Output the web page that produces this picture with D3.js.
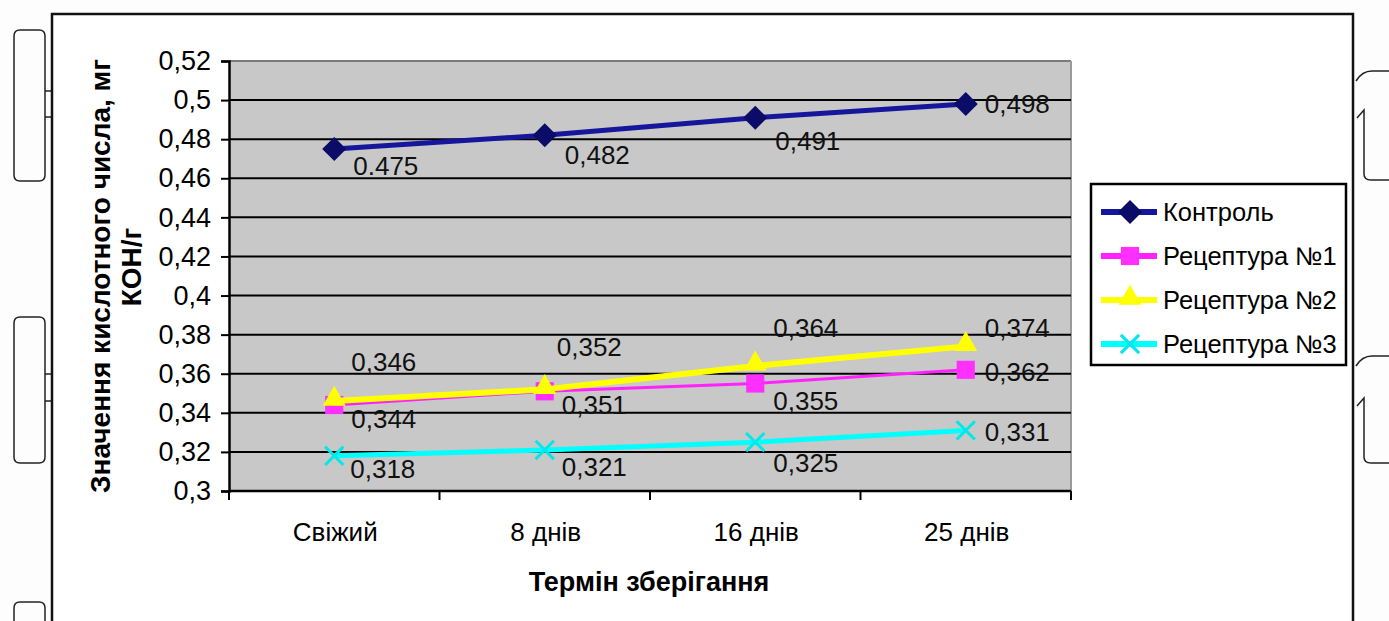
<!DOCTYPE html>
<html lang="uk">

<head>
    <meta charset="UTF-8">
    <title>Кислотне число</title>
    <script src="https://cdn.jsdelivr.net/npm/d3@7/dist/d3.min.js"></script>
    <style>
        * {
            margin: 0;
        }

        body {
            background: #fdfdfd;
        }

        svg text {
            font-family: "Liberation Sans", Arial, sans-serif;
        }
    </style>
</head>

<body>
    <svg id="chart" width="1389" height="621"></svg>
    <script>
        // дані
        const categories = ['Свіжий', '8 днів', '16 днів', '25 днів'];
        const seriesNames = ['Контроль', 'Рецептура №1', 'Рецептура №2', 'Рецептура №3'];
        const control = [0.475, 0.482, 0.491, 0.498];
        const recipe1 = [0.344, 0.351, 0.355, 0.362];
        const recipe2 = [0.346, 0.352, 0.364, 0.374];
        const recipe3 = [0.318, 0.321, 0.325, 0.331];
        const yTicks = [0.3, 0.32, 0.34, 0.36, 0.38, 0.4, 0.42, 0.44, 0.46, 0.48, 0.5, 0.52];
        const yTitle = ['Значення кислотного числа, мг', 'КОН/г'];
        const xTitle = 'Термін зберігання';

        // оформлення серій
        const styles = [
            { line: '#16169c', marker: '#0b0b68', width: 5, symbol: 'diamond' },
            { line: '#ff22ff', marker: '#ff30ff', width: 3, symbol: 'square' },
            { line: '#ffff00', marker: '#ffff00', width: 6, symbol: 'triangle' },
            { line: '#00ffff', marker: '#00e8e8', width: 5, symbol: 'x' }
        ];
        // зсуви підписів значень [dx, dy]
        const labelOffsets = [
            [[19, 17], [20, 20], [20, 23], [19, 0]],
            [[17, 14], [17, 14], [18, 17], [19, 2]],
            [[17, -39], [12, -42], [18, -38], [19, -18]],
            [[16, 13], [17, 17], [18, 21], [19, 1]]
        ];

        const seriesData = [control, recipe1, recipe2, recipe3];
        const fmt = v => String(+v.toFixed(3)).replace('.', ',');

        const svg = d3.select('#chart');

        // рамка сторінки і декор скану
        const deco = svg.append('g').attr('fill', 'none').attr('stroke', '#222').attr('stroke-width', 1.5);
        [[30, 181, 91, 117], [317, 463, 374, 401], [602, 660, null, null]].forEach(([t, b, n1, n2]) => {
            deco.append('path').attr('d',
                `M45,${t + 6}Q45,${t} 39,${t}L20,${t}Q14,${t} 14,${t + 6}L14,${b - 6}Q14,${b} 20,${b}L39,${b}Q45,${b} 45,${b - 6}Z`);
            if (n1) {
                deco.append('path').attr('d', `M45,${n1}L51,${n1}M45,${n2}L51,${n2}`);
            }
        });
        [[71, 110, 180], [356, 398, 463]].forEach(([t, s, b]) => {
            deco.append('path').attr('d',
                `M1389,${t}L1372,${t}Q1362,${t} 1356,${t + 10}M1357,${s + 8}L1364,${s}L1364,${b - 6}Q1364,${b} 1371,${b}L1389,${b}`);
        });

        svg.append('rect')
            .attr('x', 52).attr('y', 14).attr('width', 1301).attr('height', 640)
            .attr('fill', '#fff').attr('stroke', '#111').attr('stroke-width', 2.5);

        // шкали
        const x = d3.scaleBand().domain(categories).range([229, 1071]);
        const y = d3.scaleLinear().domain([0.3, 0.52]).range([491, 61]);
        const cx = c => x(c) + x.bandwidth() / 2;

        // область побудови
        svg.append('rect')
            .attr('x', 229).attr('y', y(0.52)).attr('width', 1071 - 229).attr('height', y(0.3) - y(0.52))
            .attr('fill', '#c8c8c8');
        svg.append('line')
            .attr('x1', 229).attr('x2', 1071).attr('y1', y(0.52)).attr('y2', y(0.52))
            .attr('stroke', '#7a7a7a').attr('stroke-width', 2);
        svg.append('line')
            .attr('x1', 1071).attr('x2', 1071).attr('y1', y(0.52)).attr('y2', y(0.3))
            .attr('stroke', '#9a9a9a').attr('stroke-width', 2);

        // сітка
        svg.append('g').selectAll('line')
            .data(yTicks.filter(v => v > 0.3 && v < 0.52))
            .join('line')
            .attr('x1', 229).attr('x2', 1071)
            .attr('y1', d => y(d)).attr('y2', d => y(d))
            .attr('stroke', '#000').attr('stroke-width', 2);

        // вісь Y
        const yAxis = svg.append('g')
            .attr('transform', 'translate(229,0)')
            .call(d3.axisLeft(y).tickValues(yTicks).tickSize(8).tickPadding(10)
                .tickFormat(d => String(+d.toFixed(2)).replace('.', ',')));
        yAxis.select('.domain').attr('stroke', '#000').attr('stroke-width', 2.5);
        yAxis.selectAll('.tick line').attr('stroke', '#000').attr('stroke-width', 2);
        yAxis.selectAll('.tick text').attr('font-size', 27).attr('fill', '#000');

        // вісь X
        svg.append('line')
            .attr('x1', 229).attr('x2', 1071).attr('y1', y(0.3)).attr('y2', y(0.3))
            .attr('stroke', '#000').attr('stroke-width', 2.5);
        svg.append('g').selectAll('line')
            .data(categories.map(c => x(c)).concat([x.range()[1]]))
            .join('line')
            .attr('x1', d => d).attr('x2', d => d)
            .attr('y1', y(0.3)).attr('y2', y(0.3) + 9)
            .attr('stroke', '#000').attr('stroke-width', 2);
        svg.append('g').selectAll('text')
            .data(categories)
            .join('text')
            .attr('x', d => cx(d) + 1).attr('y', y(0.3) + 41)
            .attr('dy', '0.35em')
            .attr('text-anchor', 'middle')
            .attr('font-size', 26)
            .text(d => d);

        // назви осей
        svg.append('text')
            .attr('transform', 'translate(100,276) rotate(-90)')
            .attr('dy', '0.35em')
            .attr('text-anchor', 'middle')
            .attr('font-size', 28).attr('font-weight', 'bold')
            .text(yTitle[0]);
        svg.append('text')
            .attr('transform', 'translate(131,267) rotate(-90)')
            .attr('dy', '0.35em')
            .attr('text-anchor', 'middle')
            .attr('font-size', 28).attr('font-weight', 'bold')
            .text(yTitle[1]);
        svg.append('text')
            .attr('x', 649).attr('y', 582)
            .attr('dy', '0.35em')
            .attr('text-anchor', 'middle')
            .attr('font-size', 27).attr('font-weight', 'bold')
            .text(xTitle);

        // маркери
        function marker(sel, s) {
            if (s.symbol === 'diamond') {
                sel.append('path').attr('d', d3.symbol(d3.symbolSquare, 290)())
                    .attr('transform', 'rotate(45)').attr('fill', s.marker);
            } else if (s.symbol === 'square') {
                sel.append('path').attr('d', d3.symbol(d3.symbolSquare, 330)()).attr('fill', s.marker);
            } else if (s.symbol === 'triangle') {
                sel.append('path').attr('d', d3.symbol(d3.symbolTriangle, 230)())
                    .attr('transform', 'translate(0,-2)').attr('fill', s.marker);
            } else {
                sel.append('path').attr('d', d3.symbol(d3.symbolX, 220)())
                    .attr('fill', 'none').attr('stroke', s.marker).attr('stroke-width', 3);
            }
        }

        const line = d3.line().x((d, i) => cx(categories[i])).y(d => y(d));

        seriesData.forEach((vals, si) => {
            const s = styles[si];
            const g = svg.append('g');
            g.append('path')
                .attr('d', line(vals))
                .attr('fill', 'none')
                .attr('stroke', s.line)
                .attr('stroke-width', s.width)
                .attr('stroke-linejoin', 'round');
            vals.forEach((v, i) => {
                const m = g.append('g').attr('transform', `translate(${cx(categories[i])},${y(v)})`);
                marker(m, s);
            });
        });

        // підписи значень
        seriesData.forEach((vals, si) => {
            svg.append('g').selectAll('text')
                .data(vals)
                .join('text')
                .attr('x', (d, i) => cx(categories[i]) + labelOffsets[si][i][0])
                .attr('y', (d, i) => y(d) + labelOffsets[si][i][1])
                .attr('dy', '0.35em')
                .attr('font-size', 26)
                .attr('fill', '#111')
                .text((d, i) => (si === 0 && i === 0) ? String(d) : fmt(d));
        });

        // легенда
        const legend = svg.append('g');
        legend.append('rect')
            .attr('x', 1091).attr('y', 184).attr('width', 255).attr('height', 181)
            .attr('fill', '#fff').attr('stroke', '#000').attr('stroke-width', 2.5);
        seriesNames.forEach((name, i) => {
            const ly = 212 + i * 44;
            const s = styles[i];
            legend.append('line')
                .attr('x1', 1101).attr('x2', 1157).attr('y1', ly).attr('y2', ly)
                .attr('stroke', s.line).attr('stroke-width', 6);
            marker(legend.append('g').attr('transform', `translate(1130,${ly})`), s);
            legend.append('text')
                .attr('x', 1163).attr('y', ly)
                .attr('dy', '0.35em')
                .attr('font-size', 25.5)
                .text(name);
        });
    </script>
</body>

</html>
